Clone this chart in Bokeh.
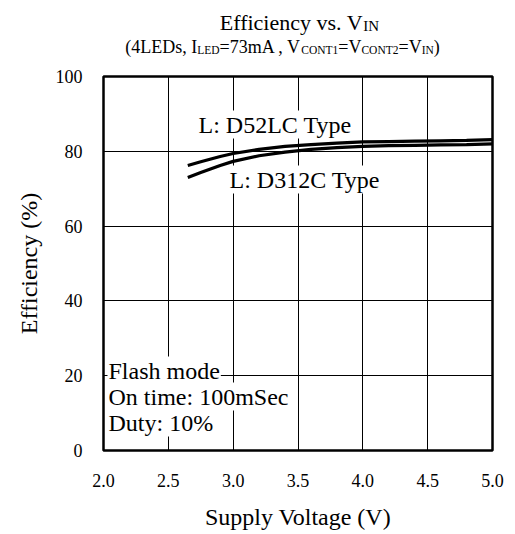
from bokeh.plotting import figure
from bokeh.models import Label, Range1d, FixedTicker
from bokeh.layouts import column
from bokeh.embed import file_html
from bokeh.resources import INLINE

# ---- data ----
x_vin = [2.65, 2.75, 2.9, 3.0, 3.2, 3.4, 3.6, 3.8, 4.0, 4.2, 4.4, 4.6, 4.8, 5.0]
eff_d52lc = [76.2, 77.2, 78.6, 79.4, 80.5, 81.3, 81.8, 82.2, 82.5, 82.6, 82.7, 82.8, 82.9, 83.1]
eff_d312c = [73.0, 74.3, 76.2, 77.3, 78.8, 79.8, 80.5, 81.0, 81.3, 81.5, 81.6, 81.7, 81.8, 82.0]
x_ticks = [2.0, 2.5, 3.0, 3.5, 4.0, 4.5, 5.0]
y_ticks = [0, 20, 40, 60, 80, 100]

FONT = "Liberation Serif"
W, H = 515, 534
TOP_H = 64
L, R, T, B = 103, 23, 76, 84
X0, X1, Y0, Y1 = 2.0, 5.0, 0.0, 100.0
FW, FH = W - L - R, H - T - B
DY = -9  # baseline correction

def px2x(px):
    return X0 + (px - L) / FW * (X1 - X0)

def py2y(py):
    return Y0 + (H - B - py) / FH * (Y1 - Y0)

# Times / Liberation Serif advance widths (per 1000 em)
TW = {"(": 333, ")": 333, "4": 500, "7": 500, "3": 500, "1": 500, "2": 500,
      "L": 611, "E": 611, "D": 722, "s": 389, ",": 250, " ": 250, "I": 333,
      "=": 564, "m": 778, "A": 722, "V": 722, "C": 667, "O": 722, "N": 722,
      "T": 611, "f": 333, "i": 278, "c": 444, "e": 444, "n": 500, "y": 500,
      "v": 500, ".": 250}

def wid(s, size):
    return sum(TW.get(c, 500) for c in s) / 1000 * size

# ---- title strip (own frame, aligned with main frame; data units = canvas pixels) ----
top = figure(width=W, height=TOP_H, output_backend="svg", toolbar_location=None,
             x_range=Range1d(L, W - R), y_range=Range1d(TOP_H, 0),
             min_border_left=L, min_border_right=R, min_border_top=0, min_border_bottom=0,
             x_axis_type=None, y_axis_type=None)
top.outline_line_color = None
top.grid.visible = False
top.background_fill_color = "white"
top.border_fill_color = "white"

def add_rich(segments, center_px, base_py):
    total = sum(wid(s, sz) for s, sz, off in segments)
    x = center_px - total / 2
    for s, sz, off in segments:
        top.add_layout(Label(x=x, y=base_py + off + DY, text=s, text_font=FONT,
                             text_font_size=f"{sz}px", text_color="black",
                             text_align="left", text_baseline="alphabetic"))
        x += wid(s, sz)

add_rich([("Efficiency vs. V", 22, 0), ("IN", 15, 3)], 299, 31)
add_rich([("(4LEDs, I", 18, 0), ("LED", 11.5, 3), ("=73mA , V", 18, 0), ("CONT1", 11.5, 3),
          ("=V", 18, 0), ("CONT2", 11.5, 3), ("=V", 18, 0), ("IN", 11.5, 3), (")", 18, 0)],
         282, 55)

# ---- main chart ----
p = figure(width=W, height=H - TOP_H, output_backend="svg", toolbar_location=None,
           x_range=Range1d(X0, X1), y_range=Range1d(Y0, Y1),
           min_border_left=L, min_border_right=R, min_border_top=T - TOP_H,
           min_border_bottom=B)
p.background_fill_color = "white"
p.border_fill_color = "white"
p.outline_line_color = "black"
p.outline_line_width = 2.5

for ax in (p.xaxis[0], p.yaxis[0]):
    ax.axis_line_color = None
    ax.major_tick_line_color = None
    ax.minor_tick_line_color = None
    ax.major_label_text_font = FONT
    ax.major_label_text_font_size = "18px"
    ax.major_label_text_color = "black"
    ax.axis_label_text_font = FONT
    ax.axis_label_text_font_size = "24px"
    ax.axis_label_text_font_style = "normal"
    ax.axis_label_text_color = "black"

p.xaxis.ticker = FixedTicker(ticks=x_ticks)
p.yaxis.ticker = FixedTicker(ticks=y_ticks)
p.xaxis.major_label_overrides = {t: f"{t:.1f}" for t in x_ticks}
p.yaxis.major_label_overrides = {t: str(t) for t in y_ticks}
p.xaxis.major_label_standoff = 17
p.yaxis.major_label_standoff = 15
p.xaxis.axis_label = "Supply Voltage (V)"
p.yaxis.axis_label = "Efficiency (%)"
p.xaxis.axis_label_standoff = 14
p.yaxis.axis_label_standoff = 11

p.xgrid.ticker = FixedTicker(ticks=x_ticks)
p.ygrid.ticker = FixedTicker(ticks=y_ticks)
for g in (p.xgrid[0], p.ygrid[0]):
    g.grid_line_color = "black"
    g.grid_line_width = 1
    g.grid_line_alpha = 1.0

def add_text(text, px, py, size):
    lab = Label(x=px2x(px), y=py2y(py + DY), text=text, text_font=FONT,
                text_font_size=f"{size}px", text_color="black",
                text_align="left", text_baseline="alphabetic",
                background_fill_color="white", padding=1, level="underlay")
    p.add_layout(lab)

add_text("L: D52LC Type", 197, 133, 24)
add_text("L: D312C Type", 228, 188, 24)
add_text("Flash mode", 107, 379, 24)
add_text("On time: 100mSec", 107, 405, 24)
add_text("Duty: 10%", 107, 431, 24)

p.line(x_vin, eff_d52lc, line_color="black", line_width=3.2)
p.line(x_vin, eff_d312c, line_color="black", line_width=3.2)

open("out.html", "w").write(file_html(column(top, p, spacing=0), INLINE))
